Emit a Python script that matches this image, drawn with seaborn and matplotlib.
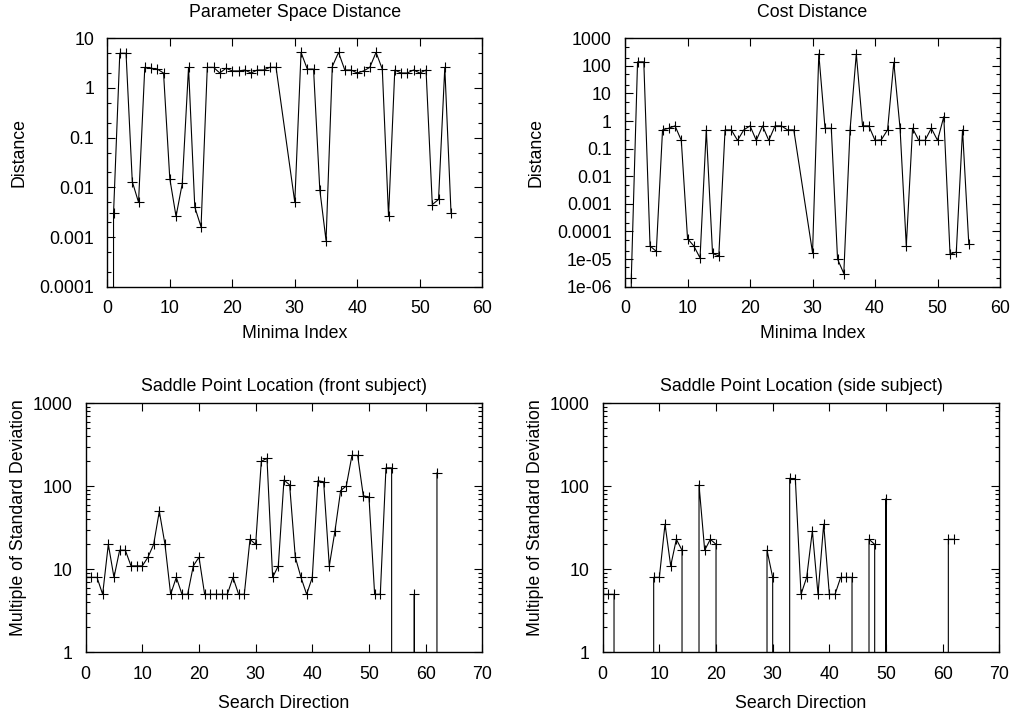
import matplotlib
matplotlib.use("Agg")
from matplotlib import pyplot as plt
from matplotlib import ticker
import seaborn as sns

# minima 28 and 29 have no entry in the distance files
minima_index = list(range(0, 28)) + list(range(30, 56))

param_distance = [
    0, 0.003, 5.0, 5.0, 0.013, 0.005, 2.6, 2.5, 2.4, 2.0,
    0.015, 0.0026, 0.012, 2.6, 0.004, 0.0016, 2.6, 2.6, 2.0, 2.5,
    2.2, 2.2, 2.3, 2.0, 2.3, 2.3, 2.6, 2.6,
    0.005, 5.2, 2.4, 2.4, 0.009, 0.00085, 2.7, 5.2, 2.3, 2.3,
    2.0, 2.2, 2.6, 5.2, 2.4, 0.0026, 2.3, 2.0, 2.0, 2.3,
    2.0, 2.3, 0.0045, 0.0057, 2.6, 0.003,
]

cost_distance = [
    0, 2e-6, 140, 140, 3e-5, 1.9e-5, 0.48, 0.55, 0.67, 0.2,
    5.5e-5, 3e-5, 1.1e-5, 0.48, 1.6e-5, 1.3e-5, 0.48, 0.48, 0.2, 0.48,
    0.67, 0.2, 0.67, 0.2, 0.67, 0.67, 0.48, 0.48,
    1.7e-5, 270, 0.55, 0.55, 1e-5, 3e-6, 0.48, 270, 0.67, 0.67,
    0.2, 0.21, 0.48, 135, 0.55, 3e-5, 0.55, 0.2, 0.2, 0.55,
    0.2, 1.45, 1.5e-5, 1.8e-5, 0.48, 3.5e-5,
]

search_direction = list(range(0, 63))

# 0 = no saddle point found along that direction
front_sigma = [
    8, 8, 8, 5, 20, 8, 17, 17, 11, 11,
    11, 14, 20, 50, 20, 5, 8, 5, 5, 11,
    14, 5, 5, 5, 5, 5, 8, 5, 5, 23,
    20, 200, 218, 8, 11, 119, 104, 14, 8, 5,
    8, 117, 113, 11, 29, 89, 101, 236, 236, 77,
    74, 5, 5, 167, 167, 0, 0, 0, 5, 0,
    0, 0, 146,
]

side_sigma = [
    5, 5, 5, 0, 0, 0, 0, 0, 0, 8,
    8, 35, 11, 23, 17, 0, 0, 104, 17, 23,
    20, 0, 0, 0, 0, 0, 0, 0, 0, 17,
    8, 0, 0, 125, 122, 5, 8, 29, 5, 35,
    5, 5, 8, 8, 8, 0, 0, 23, 20, 0,
    71, 0, 0, 0, 0, 0, 0, 0, 0, 0,
    0, 23, 23,
]

FONT_SIZE = 12.8

sns.set_theme(style="ticks", rc={
    "axes.edgecolor": "black",
    "axes.linewidth": 1.0,
    "xtick.color": "black",
    "ytick.color": "black",
    "text.color": "black",
    "axes.labelcolor": "black",
})
plt.rcParams["font.family"] = ["Liberation Sans", "DejaVu Sans"]
plt.rcParams["font.size"] = FONT_SIZE


def g_format(value, _pos):
    return "%g" % value


def draw(ax, x, y, title, xlabel, ylabel, xmax, ylim, subs, title_pad, xlabel_y):
    sns.lineplot(x=x, y=y, ax=ax, estimator=None, sort=False,
                 color="black", linewidth=0.8, marker="+", markersize=7,
                 markeredgecolor="black", markeredgewidth=0.8)
    ax.set_yscale("log")
    ax.set_xlim(0, xmax)
    ax.set_ylim(*ylim)

    ax.xaxis.set_major_locator(ticker.MultipleLocator(10))
    ax.yaxis.set_major_locator(ticker.LogLocator(base=10, numticks=20))
    ax.yaxis.set_minor_locator(ticker.LogLocator(base=10, subs=subs, numticks=20))
    ax.yaxis.set_major_formatter(ticker.FuncFormatter(g_format))
    ax.yaxis.set_minor_formatter(ticker.NullFormatter())

    ax.tick_params(which="both", direction="in", top=True, right=True,
                   width=0.8, labelsize=FONT_SIZE)
    ax.tick_params(which="major", length=5.5, pad=9.5)
    ax.tick_params(which="minor", length=3)

    ax.set_title(title, fontsize=FONT_SIZE, pad=title_pad)
    ax.set_xlabel(xlabel, fontsize=FONT_SIZE)
    ax.set_ylabel(ylabel, fontsize=FONT_SIZE)
    ax.xaxis.set_label_coords(0.5, xlabel_y)
    return ax


fig = plt.figure(figsize=(10.16, 7.13), dpi=100)

top_w, top_h = 0.3691, 0.3484
bot_w, bot_h = 0.3904, 0.3492

ax1 = fig.add_axes([0.1056, 0.5979, top_w, top_h])
ax2 = fig.add_axes([0.6152, 0.5979, top_w, top_h])
ax3 = fig.add_axes([0.0843, 0.0851, bot_w, bot_h])
ax4 = fig.add_axes([0.5932, 0.0851, bot_w, bot_h])

draw(ax1, minima_index, param_distance, "Parameter Space Distance",
     "Minima Index", "Distance", 60, (1e-4, 10), (2, 5), 15.5, -0.154)
draw(ax2, minima_index, cost_distance, "Cost Distance",
     "Minima Index", "Distance", 60, (1e-6, 1000), (2, 5), 15.5, -0.154)
draw(ax3, search_direction, front_sigma, "Saddle Point Location (front subject)",
     "Search Direction", "Multiple of Standard Deviation", 70, (1, 1000),
     (2, 3, 4, 5, 6, 7, 8, 9), 9.2, -0.173)
draw(ax4, search_direction, side_sigma, "Saddle Point Location (side subject)",
     "Search Direction", "Multiple of Standard Deviation", 70, (1, 1000),
     (2, 3, 4, 5, 6, 7, 8, 9), 9.2, -0.173)

for ax in (ax1, ax2):
    ax.yaxis.set_label_coords(-0.214, 0.542)
for ax in (ax3, ax4):
    ax.yaxis.set_label_coords(-0.148, 0.543)

fig.savefig("out.png", dpi=100)
